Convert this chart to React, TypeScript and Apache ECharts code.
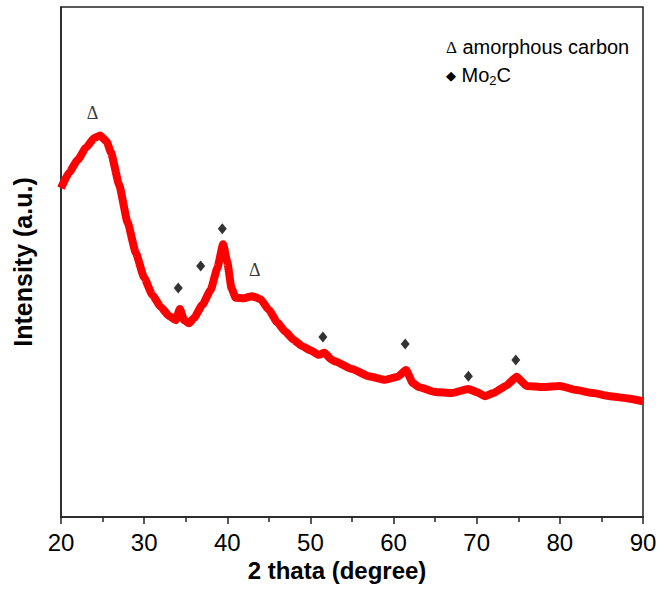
import React, { useEffect, useRef } from "react";
import * as echarts from "echarts";

const twoTheta = [20, 21, 22, 23, 24, 24.7, 25.5, 26, 27, 28, 29, 30, 31, 32, 33, 33.8, 34.3, 34.8, 35.4, 36, 37, 38, 38.8, 39.5, 40, 40.5, 41, 42, 43, 44, 45, 46, 47, 48, 49, 50, 51, 51.7, 52.5, 53, 55, 57, 59, 60.5, 61.5, 62.3, 63, 65, 67, 69, 70, 71, 72, 73.5, 74.8, 76, 78, 80, 82, 84, 86, 88, 90];
const intensity = [64.5, 67.6, 70.0, 72.4, 74.3, 74.8, 73.6, 71.5, 65.1, 57.8, 51.8, 46.9, 43.5, 41.2, 39.4, 38.6, 40.8, 38.6, 38.0, 39.0, 41.6, 44.5, 48.8, 53.5, 50.0, 44.9, 43.0, 42.9, 43.3, 42.7, 40.6, 38.2, 36.3, 34.7, 33.5, 32.7, 31.8, 32.2, 30.9, 30.5, 29.0, 27.6, 26.9, 27.5, 28.8, 26.3, 25.5, 24.5, 24.3, 25.1, 24.5, 23.7, 24.3, 25.7, 27.5, 25.7, 25.5, 25.7, 24.9, 24.3, 23.7, 23.3, 22.7];

// Mo2C peak markers (diamonds)
const mo2cX = [34.1, 36.8, 39.4, 51.5, 61.4, 69.0, 74.7];
const mo2cY = [44.9, 49.2, 56.5, 35.3, 33.9, 27.6, 30.8];

// amorphous carbon markers (Δ)
const carbonX = [23.8, 43.3];
const carbonY = [79.2, 48.4];

const xTicks = { min: 20, max: 90, interval: 10 };

const SANS = "'Liberation Sans', Arial, sans-serif";
const SERIF = "'Liberation Serif', 'Times New Roman', serif";

export default function App() {
  const ref = useRef<HTMLDivElement>(null);

  useEffect(() => {
    document.body.style.margin = "0";
    const chart = echarts.init(ref.current!, null, { renderer: "svg" });
    const lineData = twoTheta.map((x, i) => [x, intensity[i]]);
    const moData = mo2cX.map((x, i) => [x, mo2cY[i]]);
    const cData = carbonX.map((x, i) => [x, carbonY[i]]);

    chart.setOption({
      animation: false,
      backgroundColor: "#fff",
      grid: {
        left: 61,
        right: 18,
        top: 7,
        bottom: 75,
        show: true,
        borderColor: "#222",
        borderWidth: 1.5,
      },
      xAxis: {
        type: "value",
        min: xTicks.min,
        max: xTicks.max,
        interval: xTicks.interval,
        axisLine: { show: true, lineStyle: { color: "#222", width: 1.5 } },
        axisTick: { show: true, inside: false, length: 7, lineStyle: { color: "#222", width: 1.5 } },
        minorTick: { show: true, splitNumber: 2, length: 5, lineStyle: { color: "#222", width: 1.5 } },
        axisLabel: { fontSize: 24, color: "#000", fontFamily: SANS, margin: 13 },
        splitLine: { show: false },
        name: "2 thata (degree)",
        nameLocation: "middle",
        nameGap: 38,
        nameTextStyle: {
          fontSize: 24,
          fontWeight: "bold",
          color: "#000",
          fontFamily: SANS,
          padding: [0, 30, 0, 0],
        },
      },
      yAxis: {
        type: "value",
        min: 0,
        max: 100,
        axisLine: { show: true, lineStyle: { color: "#222", width: 1.5 } },
        axisTick: { show: false },
        axisLabel: { show: false },
        splitLine: { show: false },
        name: "Intensity (a.u.)",
        nameLocation: "middle",
        nameGap: 26,
        nameRotate: 90,
        nameTextStyle: {
          fontSize: 25,
          fontWeight: "bold",
          color: "#000",
          fontFamily: SANS,
        },
      },
      series: [
        {
          type: "line",
          data: lineData,
          showSymbol: false,
          smooth: 0.15,
          smoothMonotone: "x",
          lineStyle: { color: "#ff0000", width: 8 },
          z: 2,
        },
        {
          type: "scatter",
          data: moData,
          symbol: "diamond",
          symbolSize: [9, 11],
          itemStyle: { color: "#000" },
          z: 3,
        },
        {
          type: "scatter",
          data: cData,
          symbol: "circle",
          symbolSize: 1,
          itemStyle: { color: "rgba(0,0,0,0)" },
          label: {
            show: true,
            position: "inside",
            formatter: "Δ",
            fontSize: 18,
            color: "#000",
            fontFamily: SERIF,
          },
          z: 3,
        },
      ],
      graphic: [
        {
          type: "text",
          left: 446,
          top: 37,
          style: {
            text: "{d|Δ} amorphous carbon",
            fill: "#000",
            font: `20px ${SANS}`,
            rich: {
              d: { fontFamily: SERIF, fontSize: 17, fill: "#000" },
            },
          },
        },
        {
          type: "text",
          left: 446,
          top: 65,
          style: {
            text: "{k|◆} Mo{s|2}C",
            fill: "#000",
            font: `20px ${SANS}`,
            rich: {
              k: { fontFamily: "'DejaVu Sans', sans-serif", fontSize: 13, fill: "#000" },
              s: { fontSize: 13, fontFamily: SANS, fill: "#000", verticalAlign: "bottom", padding: [10, 0, 0, 0] },
            },
          },
        },
      ],
    });
    return () => chart.dispose();
  }, []);

  return <div ref={ref} style={{ width: 661, height: 592 }} />;
}
